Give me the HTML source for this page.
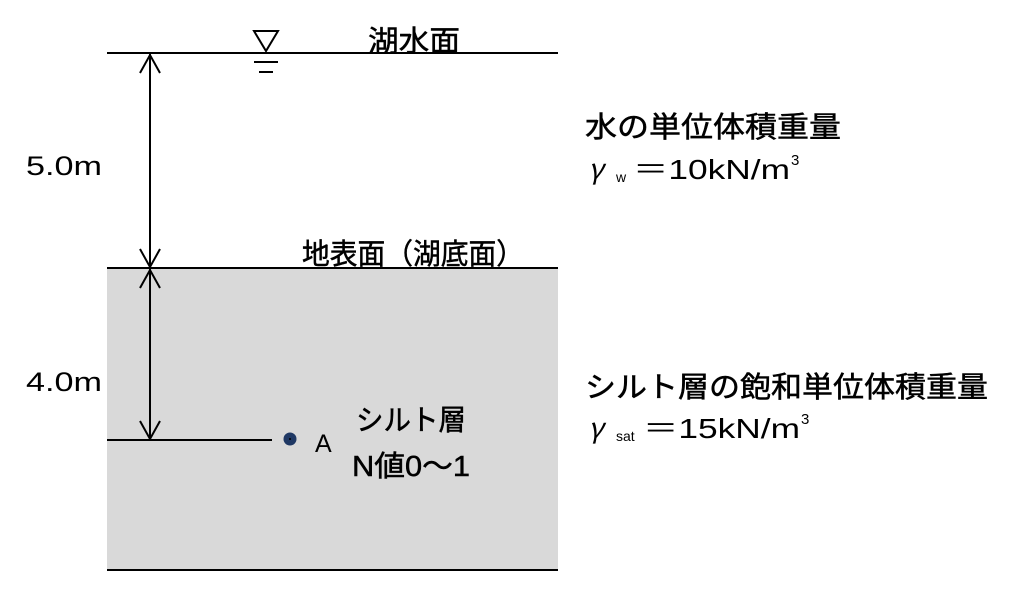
<!DOCTYPE html>
<html><head><meta charset="utf-8"><style>body{margin:0;background:#fff}svg{display:block}</style></head><body>
<svg width="1024" height="593" xmlns="http://www.w3.org/2000/svg" font-family="'Liberation Sans','Noto Sans CJK JP',sans-serif" fill="#000">
<rect x="107" y="268" width="451" height="302" fill="#d9d9d9"/>
<g stroke="#000" stroke-width="2" fill="none">
<line x1="107" y1="53" x2="558" y2="53"/>
<line x1="107" y1="268" x2="558" y2="268"/>
<line x1="107" y1="570" x2="558" y2="570"/>
<line x1="107" y1="440" x2="272" y2="440"/>
<line x1="150" y1="54" x2="150" y2="267"/>
<line x1="150" y1="269" x2="150" y2="439"/>
<polyline points="140,73 150,55 160,73"/>
<polyline points="140,249 150,267 160,249"/>
<polyline points="140,288 150,270 160,288"/>
<polyline points="140,421 150,439 160,421"/>
<polygon points="254,31 278,31 266,51"/>
<line x1="254" y1="62" x2="278" y2="62"/>
<line x1="259" y1="72" x2="273" y2="72"/>
</g>
<circle cx="290" cy="439" r="6.5" fill="#1f3864"/>
<circle cx="290" cy="439" r="1" fill="#000"/>
<g font-size="29" stroke="#000" stroke-width="0.5">
<text x="368" y="51" textLength="92" lengthAdjust="spacingAndGlyphs">湖水面</text>
<text x="302" y="264" textLength="222" lengthAdjust="spacingAndGlyphs">地表面（湖底面）</text>
<text x="356" y="430" textLength="110" lengthAdjust="spacingAndGlyphs">シルト層</text>
<text x="352" y="476" textLength="118" lengthAdjust="spacingAndGlyphs">N値0～1</text>
<text x="585" y="137" textLength="256" lengthAdjust="spacingAndGlyphs">水の単位体積重量</text>
<text x="585" y="397" textLength="403" lengthAdjust="spacingAndGlyphs">シルト層の飽和単位体積重量</text>
</g>
<g font-size="27">
<text x="26" y="175" textLength="76" lengthAdjust="spacingAndGlyphs">5.0m</text>
<text x="26" y="391" textLength="76" lengthAdjust="spacingAndGlyphs">4.0m</text>
<text x="315" y="452" font-size="25">A</text>
</g>
<g font-size="28">
<text x="588" y="179" font-family="'Noto Sans CJK JP',serif" font-style="italic">γ</text>
<text x="616" y="182" font-size="14">w</text>
<text x="633" y="179" textLength="157" lengthAdjust="spacingAndGlyphs">＝10kN/m</text>
<text x="791" y="165" font-size="15">3</text>
<text x="588" y="438" font-family="'Noto Sans CJK JP',serif" font-style="italic">γ</text>
<text x="616" y="441" font-size="14">sat</text>
<text x="643" y="438" textLength="157" lengthAdjust="spacingAndGlyphs">＝15kN/m</text>
<text x="801" y="424" font-size="15">3</text>
</g>
</svg>
</body></html>
